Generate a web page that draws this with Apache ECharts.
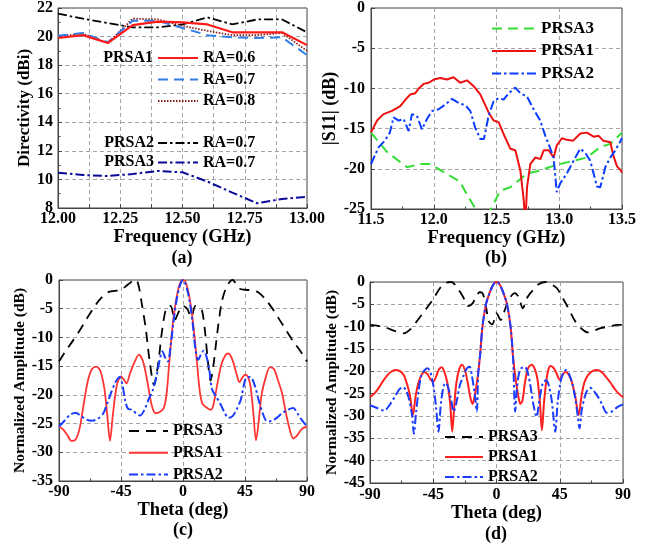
<!DOCTYPE html>
<html><head><meta charset="utf-8">
<script src="https://cdn.jsdelivr.net/npm/echarts@6/dist/echarts.min.js"></script>
<style>html,body{margin:0;padding:0;background:#fff}#c{width:645px;height:544px}</style>
</head><body><div id="c"></div>
<script>
const FONT = 'Liberation Serif';
// ---------- (a) Directivity ----------
const aFreq = [12.0,12.1,12.2,12.3,12.4,12.5,12.6,12.7,12.8,12.9,13.0];
const aPRSA1_RA06 = [19.9,20.1,19.55,20.8,21.05,21.0,20.85,20.3,20.3,20.3,19.4];
const aPRSA1_RA07 = [20.05,20.25,19.6,21.1,21.1,20.6,20.1,19.95,19.9,19.95,18.7];
const aPRSA1_RA08 = [20.0,20.2,19.55,21.25,21.2,20.75,20.4,20.1,20.1,20.25,19.0];
const aPRSA2_RA07 = [21.6,21.25,20.95,20.65,20.65,20.85,21.35,20.85,21.2,21.2,20.3];
const aPRSA3_RA07 = [10.47,10.31,10.24,10.38,10.59,10.5,9.85,9.08,8.33,8.63,8.79];
// ---------- (b) |S11| ----------
const bPRSA1_f = [11.5,11.548,11.6,11.667,11.733,11.78,11.813,11.853,11.88,11.919,11.96,12.0,12.052,12.105,12.158,12.211,12.265,12.318,12.371,12.437,12.477,12.517,12.557,12.61,12.65,12.69,12.717,12.73,12.743,12.77,12.809,12.85,12.876,12.916,12.955,12.98,13.021,13.06,13.11,13.168,13.22,13.274,13.314,13.35,13.407,13.43,13.46,13.486,13.5];
const bPRSA1_v = [-15.5,-14.0,-13.2,-12.8,-12.2,-11.3,-10.75,-10.6,-10.0,-9.44,-9.3,-8.9,-8.7,-8.9,-8.62,-9.3,-9.0,-9.73,-10.75,-12.99,-14.0,-14.2,-15.7,-17.5,-17.7,-20.2,-23.9,-27,-22.3,-19.4,-18.6,-18.8,-17.7,-17.7,-18.6,-17.1,-16.2,-16.4,-16.5,-15.6,-15.5,-16.0,-15.9,-16.5,-16.7,-18.3,-19.7,-20.1,-20.5];
const bPRSA2_f = [11.5,11.561,11.61,11.65,11.68,11.72,11.76,11.8,11.826,11.866,11.906,11.946,11.986,12.039,12.092,12.145,12.198,12.251,12.291,12.331,12.371,12.4,12.437,12.477,12.517,12.557,12.597,12.65,12.69,12.743,12.796,12.849,12.889,12.929,12.955,12.98,13.008,13.06,13.114,13.167,13.207,13.247,13.274,13.3,13.327,13.367,13.407,13.447,13.5];
const bPRSA2_v = [-19.4,-17.3,-16.5,-15.5,-13.6,-14.0,-13.8,-15.3,-13.2,-13.4,-15.1,-13.8,-12.8,-12.6,-12.0,-11.3,-11.8,-12.1,-12.8,-14.9,-16.3,-16.3,-13.4,-11.6,-11.2,-11.4,-10.6,-9.9,-10.6,-11.0,-12.6,-14.0,-15.9,-17.5,-18.6,-22.9,-21.8,-20.6,-19.0,-17.5,-18.0,-19.0,-20.6,-22.2,-22.3,-19.8,-18.6,-17.7,-16.2];
const bPRSA3_f = [11.5,11.627,11.787,11.893,11.97,12.1,12.21,12.26,12.33,12.4,12.456,12.53,12.61,12.663,12.743,12.849,12.955,13.114,13.22,13.327,13.407,13.486,13.5];
const bPRSA3_v = [-15.5,-17.9,-19.8,-19.4,-19.4,-20.6,-21.6,-23.1,-24.9,-26.5,-25.0,-22.7,-22.3,-21.6,-20.6,-20.2,-19.6,-19.0,-18.6,-17.3,-16.9,-15.7,-15.5];
// ---------- (c) pattern ----------
const cPRSA3_t = [-90,-85,-80,-75,-70,-65,-60,-55,-50,-45,-40,-36,-34,-32,-30,-27,-24,-21,-18,-15,-12,-9,-6,-3,0,3,6,9,12,14,16,18,20,22,25,28,31,34,36,38,41,45,50,55,60,65,70,75,80,85,90];
const cPRSA3_v = [-14.2,-12.3,-10.6,-8.8,-6.8,-4.9,-3.3,-2.2,-1.9,-1.7,-0.8,-0.1,0,-1.2,-4,-8.5,-14.5,-18.3,-14.5,-8.5,-4.8,-4.5,-7,-5.5,-4.5,-5,-6.5,-4.5,-4.8,-5.5,-9,-14,-17.5,-15,-9,-4,-1.5,-0.3,0,-0.5,-1.5,-1.7,-1.8,-2.2,-3.4,-5.0,-6.9,-8.8,-10.7,-12.3,-14.2];
const cPRSA1_t = [-90,-87,-84,-81,-78,-75,-72,-69,-66,-63,-60,-57,-55,-53,-51,-48,-45,-43,-41,-38.5,-35,-32,-29,-26,-23,-20,-17,-14,-12,-10,-8,-6,-4,-2,0,2,4,6,8,10,12,14,17,20,22,25,28,31,33,36,39,41,43,45,47,49,51,53,55,57,60,63,66,69,72,75,78,80,83,86,90];
const cPRSA1_v = [-25.5,-26,-27,-28,-27.8,-25.8,-21.5,-17.5,-15.5,-15.1,-15.8,-19,-23.5,-28,-23.7,-18.3,-16.8,-17.3,-18,-16.3,-14.2,-13,-14.2,-17.5,-21.5,-23.2,-23,-22.3,-20,-14.5,-9,-5,-2.2,-0.5,0,-0.4,-2.2,-5,-9,-14,-19,-21.5,-22.2,-22.6,-21.8,-18,-14.6,-13,-12.8,-14,-16.5,-17.8,-17,-16.5,-16.8,-18.5,-23,-27.9,-24.5,-20,-17,-15.2,-15.5,-17.5,-19.8,-23.5,-26.5,-27.6,-27,-26,-25.5];
const cPRSA2_t = [-90,-86,-82,-78,-74,-70,-66,-62,-58,-55,-52,-49,-46,-44,-42,-40,-37,-34,-31,-28,-25,-22,-19,-17,-15,-13,-11,-9,-7,-5,-3,-1,0,1,3,5,7,9,11,13,15,17,19,21,24,27,30,33,36,39,42,44,46,49,52,55,58,61,64,68,72,76,80,83,86,90];
const cPRSA2_v = [-25.5,-24.5,-23.5,-23.1,-23.7,-24.3,-24.5,-24.2,-23.3,-21.5,-19.5,-17.8,-16.9,-18.2,-21,-22.4,-22.6,-23.2,-23.6,-22.6,-20.8,-19.2,-16.5,-14,-12.4,-13.5,-14.2,-11.5,-7.5,-4,-1.6,-0.2,0,-0.2,-1.6,-4,-7.5,-12,-13.9,-13,-12.3,-13.3,-15.5,-19,-20.3,-21.5,-23,-24,-23.7,-22.5,-20.8,-18.5,-17,-16.9,-18.3,-21,-23.3,-24.6,-24.6,-24,-23.2,-22.6,-22.3,-23.2,-24.3,-25.5];
// ---------- (d) pattern ----------
const dPRSA3_t = [-90,-84,-78,-72,-66,-61,-56,-50,-45,-40,-36,-32,-28,-24,-20,-17,-15,-12,-10,-8,-5.5,-3,0,3,6,9,13,16,18.6,22,26,30,35,39,43,46,50,56,60,65,70,74,80,86,90];
const dPRSA3_v = [-9.6,-9.8,-10.3,-11,-11.5,-10.5,-8.5,-6,-3.8,-1.3,-0.2,0,-1.3,-3.2,-5.4,-4.8,-3.6,-2.3,-2.5,-4.5,-8.8,-9.5,-7,-8.5,-6.2,-3.8,-2.5,-3.5,-5.9,-3.4,-1.8,-0.5,0,-0.5,-1.4,-3,-5.2,-8.8,-10.3,-11.3,-10.8,-10.3,-10,-9.6,-9.6];
const dPRSA1_t = [-90,-87,-84,-81,-78,-75,-72,-69,-66,-63.5,-61.5,-59.5,-57.5,-55.5,-53,-51,-49,-47,-45,-43,-41,-39,-37,-35,-33,-31.5,-30,-28.5,-26.5,-24.5,-22.5,-20.5,-18.5,-17,-15.5,-13.5,-11.7,-10,-7.5,-5,-3,-1.5,0,1.5,3,5,7.5,10,11.7,13.5,15.5,17,18.5,20.5,22.5,25,27,29,30.8,32.3,33.8,35.5,37,38.5,40.5,42.5,45,47,49,51,53.5,56,58.4,60.5,62.5,65,68,71.5,75,78,81,84,87,90];
const dPRSA1_v = [-25.8,-25,-23.8,-22.3,-21,-20.1,-19.7,-19.9,-20.8,-23,-25.5,-29.8,-25.5,-22.5,-20.6,-20.2,-20.7,-21.8,-22.3,-21.2,-19.6,-19.1,-20.2,-22.5,-27,-33.5,-27.5,-22.5,-19.5,-18.5,-19.7,-22.5,-26,-27.3,-25.5,-21.5,-16.5,-10,-5,-2.5,-1,-0.25,0,-0.25,-1,-2.5,-5,-10,-16.5,-21.5,-25.5,-27.3,-26.5,-22,-19.3,-18.5,-19.3,-21.5,-26.5,-33.2,-27,-22,-19.5,-18.8,-19.2,-20.3,-21.9,-20.8,-20.1,-20.6,-22.3,-25.5,-29.8,-25.5,-22.5,-20.9,-20,-19.7,-20.2,-21.3,-22.5,-23.9,-25,-25.8];
const dPRSA2_t = [-90,-85,-80,-76,-72,-69,-66.5,-64,-62,-60,-58.8,-57.3,-55.5,-53.5,-51,-49,-47,-45,-43,-41.3,-39.5,-37.5,-36,-34.5,-32.5,-30.5,-28.5,-26,-23.5,-21,-19,-17.5,-15.5,-14,-13,-11.7,-10,-7.5,-5,-3,-1.5,0,1.5,3,5,7.5,10,11.7,13.3,14.5,16,18,20,22,24,26,28.5,30.5,33,35.5,37.5,39.5,41.8,43.5,45.5,47.5,49.6,51.5,54,56,57.8,59.1,60.5,62.5,64.5,66.7,69,72,75,78.5,82,86,90];
const dPRSA2_v = [-27.6,-28.2,-28.8,-27.5,-25.5,-24,-23.5,-24.5,-26.5,-30,-34,-29.5,-24.5,-21,-19.7,-19.3,-20.3,-23,-28,-33.5,-27,-23.2,-22.6,-23.5,-26,-29,-27,-23,-21,-19.3,-19,-21,-25,-29,-20.5,-16.5,-10,-5,-2.5,-1,-0.25,0,-0.25,-1,-2.5,-5,-10,-16.5,-29,-24,-20.5,-19.2,-19,-20,-23,-27,-30.2,-26.5,-22.6,-22,-23.5,-27,-33.5,-27,-22.5,-20.3,-19.7,-20.5,-22.8,-26,-30,-32.8,-29,-26,-24.3,-23.7,-24.3,-25.6,-27.3,-29.3,-29,-28,-27.4];

const zip = (x, y) => x.map((v, i) => [v, y[i]]);
const labelMap = {
  a1:'RA=0.6', a2:'RA=0.7', a3:'RA=0.8', a4:'RA=0.7', a5:'RA=0.7',
  b1:'PRSA1', b2:'PRSA2', b3:'PRSA3', c1:'PRSA1', c2:'PRSA2', c3:'PRSA3', d1:'PRSA1', d2:'PRSA2', d3:'PRSA3'
};
const DASHDOT = [9, 3, 2.5, 3];
const gridLine = {show:true, lineStyle:{color:'#9a9a9a', type:[4,3], width:0.9}};
const AX = '#444';
function mkAxis(kind, gi, min, max, interval, fmt, margin, name, nameGap, nameSize, minorSplit){
  return {
    type:'value', gridIndex:gi, min, max, interval,
    axisLine:{show:true, onZero:false, lineStyle:{color:AX, width:1}},
    axisTick:{show:true, inside:true, length:4, lineStyle:{color:AX}},
    minorTick:{show: !!minorSplit, splitNumber: minorSplit || 2, length:2.5, lineStyle:{color:AX}},
    splitLine: gridLine,
    axisLabel:{color:'#000', fontFamily:FONT, fontWeight:'bold', fontSize:16, margin, formatter:fmt, showMinLabel:true, showMaxLabel:true},
    name, nameLocation:'middle', nameGap,
    nameTextStyle:{fontFamily:FONT, fontWeight:'bold', fontSize:nameSize, color:'#000'}
  };
}
const fmtA = v => { const q = v*4; return Math.abs(q-Math.round(q)) < 1e-6 ? v.toFixed(2) : ''; };
const fmt1 = v => v.toFixed(1);
const fmt0 = v => String(Math.round(v));

function line(id, xi, x, y, color, width, type, smooth){
  return {name:id, type:'line', xAxisIndex:xi, yAxisIndex:xi, data:zip(x,y), symbol:'none', showSymbol:false,
    smooth: smooth || false, color, lineStyle:{color, width, type}, itemStyle:{color}, z: 3, animation:false};
}
const legText = size => ({fontFamily:FONT, fontWeight:'bold', fontSize:size, color:'#000', lineHeight:16});
function leg(data, left, top, itemWidth, gap, size){
  return {data, left, top, orient:'vertical', padding:0, itemWidth, itemHeight:16, itemGap:gap,
    itemStyle:{opacity:0, borderWidth:0},
    formatter: n => labelMap[n], textStyle: legText(size), selectedMode:false};
}
function txt(t, x, y, size, align){
  return {type:'text', x, y, z:10, style:{text:t, align: align||'center', verticalAlign:'middle', font:'bold '+size+'px "'+FONT+'"', fill:'#000'}};
}

const chart = echarts.init(document.getElementById('c'), null, {renderer:'canvas'});
chart.setOption({
  animation:false,
  backgroundColor:'#fff',
  grid:[
    {left:58, top:8, width:249, height:200, show:true, borderColor:AX, borderWidth:1, backgroundColor:'transparent'},
    {left:371, top:6, width:251, height:203, show:true, borderColor:AX, borderWidth:1, backgroundColor:'transparent'},
    {left:59, top:280, width:248, height:201, show:true, borderColor:AX, borderWidth:1, backgroundColor:'transparent'},
    {left:370, top:282, width:253, height:201, show:true, borderColor:AX, borderWidth:1, backgroundColor:'transparent'}
  ],
  xAxis:[
    mkAxis('x',0,12,13,0.125,fmtA,3,'Frequency (GHz)',19,18.5,0),
    mkAxis('x',1,11.5,13.5,0.5,fmt1,3,'Frequency (GHz)',19,18.5,2),
    mkAxis('x',2,-90,90,45,fmt0,3,'Theta (deg)',20,18.5,2),
    mkAxis('x',3,-90,90,45,fmt0,4,'Theta (deg)',20,18.5,2)
  ],
  yAxis:[
    mkAxis('y',0,8,22,2,fmt0,5,'Directivity (dBi)',23,17,2),
    mkAxis('y',1,-25,0,5,fmt0,6,'|S11| (dB)',23,18,0),
    mkAxis('y',2,-35,0,5,fmt0,6,'Normalized Amplitude (dB)',30,15.5,0),
    mkAxis('y',3,-45,0,5,fmt0,5,'Normalized Amplitude (dB)',27,15.5,0)
  ],
  legend:[
    leg(['a1','a2','a3'],157,50,40,5.5,16),
    leg(['a4','a5'],157,135,40,3.6,16),
    leg(['b3','b1','b2'],491,20,44,5.5,17),
    leg(['c3','c1','c2'],128,423,39,5.7,16),
    leg(['d3','d1','d2'],444,429,38,4,16)
  ],
  graphic:[
    txt('PRSA1',153,58,16,'right'),
    txt('PRSA2',154,143,16,'right'),
    txt('PRSA3',154,162,16,'right'),
    txt('(a)',182,258,18),
    txt('(b)',496,258,18),
    txt('(c)',183,530,18),
    txt('(d)',496,534,18)
  ],
  series:[
    line('a5',0,aFreq,aPRSA3_RA07,'#0a0a9a',2,DASHDOT),
    line('a4',0,aFreq,aPRSA2_RA07,'#000000',1.8,DASHDOT),
    line('a3',0,aFreq,aPRSA1_RA08,'#8b1a1a',1.8,[1.5,1.5]),
    line('a2',0,aFreq,aPRSA1_RA07,'#2f7fe6',2,[10,6]),
    line('a1',0,aFreq,aPRSA1_RA06,'#ff1a1a',2.2,'solid'),
    line('b3',1,bPRSA3_f,bPRSA3_v,'#33dd33',2,[10,6]),
    line('b1',1,bPRSA1_f,bPRSA1_v,'#ee1111',2,'solid'),
    line('b2',1,bPRSA2_f,bPRSA2_v,'#0a3cff',2,DASHDOT),
    line('c3',2,cPRSA3_t,cPRSA3_v,'#000000',1.8,[10,7],0.3),
    line('c1',2,cPRSA1_t,cPRSA1_v,'#ff3535',1.8,'solid',0.3),
    line('c2',2,cPRSA2_t,cPRSA2_v,'#1a3cff',2,DASHDOT,0.3),
    line('d3',3,dPRSA3_t,dPRSA3_v,'#000000',1.8,[10,7],0.3),
    line('d1',3,dPRSA1_t,dPRSA1_v,'#ff2020',2,'solid',0.3),
    line('d2',3,dPRSA2_t,dPRSA2_v,'#1a3cff',2,DASHDOT,0.3)
  ]
});
</script></body></html>
